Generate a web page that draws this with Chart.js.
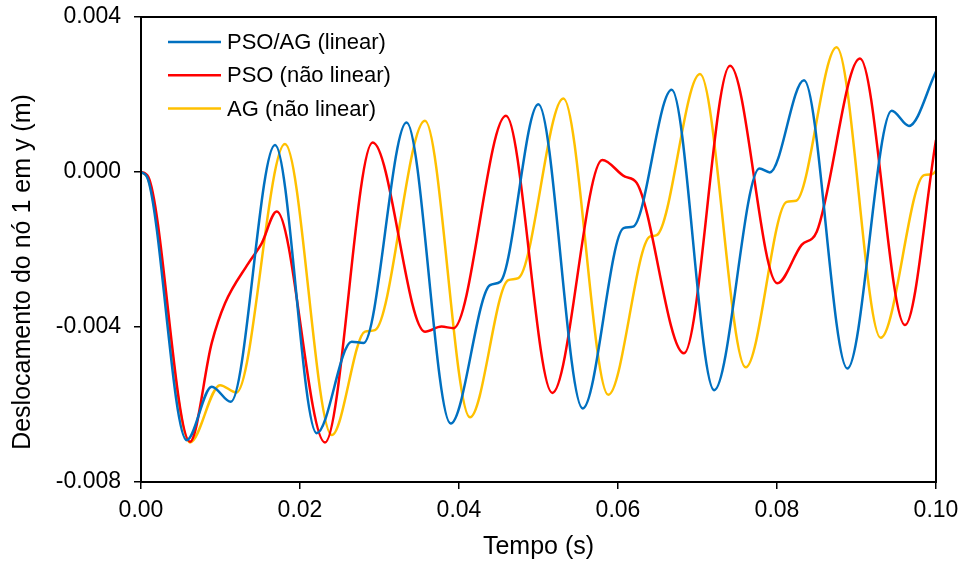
<!DOCTYPE html>
<html lang="pt">
<head>
    <meta charset="UTF-8">
    <title>Deslocamento do nó 1</title>
    <script src="https://cdn.jsdelivr.net/npm/chart.js"></script>
    <style>
        body {
            margin: 0;
            background: #ffffff;
        }
        .chart-box {
            width: 965px;
            height: 566px;
        }
    </style>
</head>
<body>
    <div class="chart-box">
        <canvas id="dispChart"></canvas>
    </div>

    <script>
        // Data (time in s, displacement in m)
        const tLinear = [0, 0.0009, 0.00575, 0.0089, 0.0113, 0.01686, 0.0221, 0.0265, 0.028, 0.0334, 0.03895,
            0.0439, 0.0452, 0.04998, 0.05556, 0.0607, 0.0619, 0.06675, 0.0721, 0.0778, 0.0791,
            0.0834, 0.08885, 0.09443, 0.0966, 0.1];
        const yLinear = [0, -0.0002, -0.00692, -0.00554, -0.00593, 0.00070, -0.00674, -0.00438, -0.00441, 0.00128, -0.00649,
            -0.00292, -0.00283, 0.00175, -0.00610, -0.00145, -0.00141, 0.00212, -0.00563, 0.00009, -0.00001,
            0.00237, -0.00507, 0.00158, 0.00119, 0.00259];

        const tPso = [0, 0.0009, 0.00616, 0.0089, 0.01057, 0.0135, 0.01518, 0.01707, 0.02314, 0.02914, 0.03572,
            0.0378, 0.0393, 0.04591, 0.05174, 0.05803, 0.06088, 0.06235, 0.0683, 0.07409, 0.08004,
            0.0831, 0.085, 0.09044, 0.0961, 0.1];
        const yPso = [0, -0.00012, -0.00696, -0.00441, -0.00339, -0.00236, -0.00184, -0.00102, -0.00698, 0.00076, -0.00412,
            -0.00399, -0.00403, 0.00145, -0.00570, 0.00031, -0.00012, -0.00028, -0.00468, 0.00274, -0.00287,
            -0.00188, -0.00154, 0.00293, -0.00395, 0.00083];

        const tAg = [0, 0.0009, 0.00616, 0.00994, 0.012, 0.01811, 0.024, 0.02818, 0.02943, 0.03572, 0.04138,
            0.0462, 0.04746, 0.05313, 0.05878, 0.064, 0.06487, 0.07031, 0.07606, 0.08122, 0.0824,
            0.0875, 0.09304, 0.0985, 0.0995, 0.1];
        const yAg = [0, -0.00018, -0.00698, -0.00550, -0.00569, 0.00072, -0.00679, -0.00412, -0.00408, 0.00132, -0.00633,
            -0.00279, -0.00274, 0.00190, -0.00575, -0.00167, -0.00163, 0.00253, -0.00504, -0.00077, -0.00074,
            0.00322, -0.00428, -0.00008, -0.00006, 0.00003];

        const seriesLabels = ['PSO/AG (linear)', 'PSO (não linear)', 'AG (não linear)'];
        const seriesColors = ['#0070C0', '#FF0000', '#FFC000'];

        const xTitle = 'Tempo (s)';
        const yTitle = 'Deslocamento do nó 1 em y (m)';

        const toPoints = (ts, ys) => ts.map((t, i) => ({ x: t, y: ys[i] }));

        // Box around plot, legend inside plot and y title (slightly below centre, as in the figure)
        const decorations = {
            id: 'decorations',
            afterDraw(chart) {
                const ctx = chart.ctx;
                const area = chart.chartArea;
                ctx.save();
                ctx.strokeStyle = '#000';
                ctx.lineWidth = 2;
                ctx.strokeRect(area.left, area.top, area.right - area.left, area.bottom - area.top);

                // legend
                ctx.font = '22px "Liberation Sans", Arial, sans-serif';
                ctx.textBaseline = 'middle';
                ctx.textAlign = 'left';
                chart.data.datasets.forEach((ds, i) => {
                    const y = 42 + i * 33.3;
                    ctx.strokeStyle = ds.borderColor;
                    ctx.lineWidth = 2.5;
                    ctx.beginPath();
                    ctx.moveTo(168, y);
                    ctx.lineTo(221, y);
                    ctx.stroke();
                    ctx.fillStyle = '#000';
                    ctx.fillText(ds.label, 227, y + 1);
                });

                // y axis title
                ctx.translate(23, 272);
                ctx.rotate(-Math.PI / 2);
                ctx.textAlign = 'center';
                ctx.font = '25px "Liberation Sans", Arial, sans-serif';
                ctx.fillText(yTitle, 0, 0);
                ctx.restore();
            }
        };

        const makeDataset = (i, ts, ys) => ({
            label: seriesLabels[i],
            data: toPoints(ts, ys),
            borderColor: seriesColors[i],
            backgroundColor: seriesColors[i],
            borderWidth: 2.5,
            pointRadius: 0,
            fill: false,
            cubicInterpolationMode: 'monotone'
        });

        new Chart(document.getElementById('dispChart').getContext('2d'), {
            type: 'line',
            data: {
                datasets: [
                    makeDataset(0, tLinear, yLinear),
                    makeDataset(1, tPso, yPso),
                    makeDataset(2, tAg, yAg)
                ]
            },
            options: {
                responsive: true,
                maintainAspectRatio: false,
                animation: false,
                layout: {
                    padding: { top: 17, right: 29, left: 0, bottom: 0 }
                },
                plugins: {
                    legend: { display: false },
                    tooltip: { enabled: false }
                },
                scales: {
                    x: {
                        type: 'linear',
                        min: 0,
                        max: 0.1,
                        afterFit: (s) => {
                            s.height = 84;
                            s.paddingLeft = 0;
                            s.paddingRight = 0;
                        },
                        border: { color: '#000', width: 2 },
                        grid: { drawOnChartArea: false, drawTicks: true, tickLength: 7, color: '#000', lineWidth: 1.5 },
                        ticks: {
                            stepSize: 0.02,
                            padding: 8,
                            color: '#000',
                            font: { family: '"Liberation Sans", Arial, sans-serif', size: 23 },
                            callback: (v) => v.toFixed(2)
                        },
                        title: {
                            display: true,
                            text: xTitle,
                            color: '#000',
                            font: { family: '"Liberation Sans", Arial, sans-serif', size: 25 },
                            padding: { top: 0, bottom: 4 }
                        }
                    },
                    y: {
                        min: -0.008,
                        max: 0.004,
                        afterFit: (s) => {
                            s.width = 141;
                            s.paddingTop = 0;
                            s.paddingBottom = 0;
                        },
                        border: { color: '#000', width: 2 },
                        grid: { drawOnChartArea: false, drawTicks: true, tickLength: 7, color: '#000', lineWidth: 1.5 },
                        ticks: {
                            stepSize: 0.004,
                            padding: 13,
                            color: '#000',
                            font: { family: '"Liberation Sans", Arial, sans-serif', size: 23 },
                            callback: (v) => v.toFixed(3)
                        }
                    }
                }
            },
            plugins: [decorations]
        });
    </script>
</body>
</html>
